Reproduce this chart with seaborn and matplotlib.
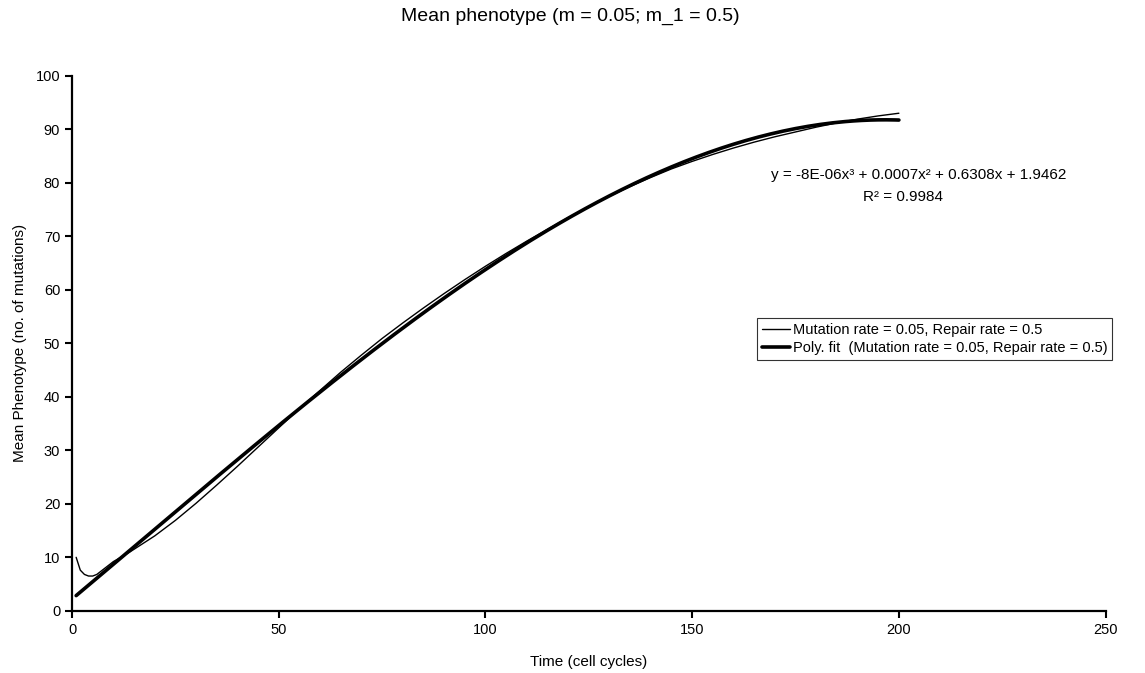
import numpy as np
import pandas as pd
import matplotlib
matplotlib.use("Agg")
import matplotlib.pyplot as plt
import seaborn as sns

# ---- data ----
time_cycles = [1, 2, 3, 4, 5, 6, 7, 8, 9, 10, 12, 14, 16, 18, 20, 25, 30, 35, 40, 45,
               50, 55, 60, 65, 70, 75, 80, 85, 90, 95, 100, 105, 110, 115, 120, 125,
               130, 135, 140, 145, 150, 155, 160, 165, 170, 175, 180, 185, 190, 195, 200]
mean_phenotype = [10.0, 7.6, 6.8, 6.5, 6.5, 6.8, 7.4, 8.0, 8.6, 9.2, 10.1, 11.0, 12.0, 13.0,
                  14.0, 16.9, 20.1, 23.5, 27.0, 30.6, 34.2, 37.8, 41.2, 44.6, 47.8, 50.9,
                  53.8, 56.6, 59.3, 61.9, 64.4, 66.8, 69.1, 71.3, 73.5, 75.5, 77.5, 79.3,
                  81.0, 82.6, 84.0, 85.3, 86.5, 87.6, 88.6, 89.5, 90.4, 91.2, 91.9, 92.5, 93.0]

series_label = "Mutation rate = 0.05, Repair rate = 0.5"
fit_label = "Poly. fit  (Mutation rate = 0.05, Repair rate = 0.5)"
title_text = "Mean phenotype (m = 0.05; m_1 = 0.5)"
eq_text = "y = -8E-06x\u00b3 + 0.0007x\u00b2 + 0.6308x + 1.9462"
r2_text = "R\u00b2 = 0.9984"
x_ticks = [0, 50, 100, 150, 200, 250]
y_ticks = [0, 10, 20, 30, 40, 50, 60, 70, 80, 90, 100]

# ---- style ----
sns.set_style("ticks")
plt.rcParams['font.family'] = ['Liberation Sans', 'DejaVu Sans']

# third-order polynomial trend line fitted to the series
# (weights account for the uneven sampling, so every cell cycle counts alike)
t_arr = np.asarray(time_cycles, dtype=float)
spacing = np.gradient(t_arr)
coef = np.polyfit(t_arr, mean_phenotype, 3, w=np.sqrt(spacing))
fit_x = np.linspace(t_arr.min(), t_arr.max(), 200)
fit_y = np.polyval(coef, fit_x)

df = pd.DataFrame({"t": time_cycles, "y": mean_phenotype})
df_fit = pd.DataFrame({"t": fit_x, "y": fit_y})

fig = plt.figure(figsize=(11.45, 6.73), dpi=100)
ax = fig.add_axes([0.0629, 0.0924, 0.9027, 0.795])

sns.lineplot(data=df, x="t", y="y", ax=ax, color="black", linewidth=1.0, label=series_label)
sns.lineplot(data=df_fit, x="t", y="y", ax=ax, color="black", linewidth=2.6, label=fit_label)

ax.set_xlim(0, 250)
ax.set_ylim(0, 100)
ax.set_xticks(x_ticks)
ax.set_yticks(y_ticks)
ax.tick_params(axis="both", labelsize=10.5, length=5, width=1.5, color="black", labelcolor="black")
for side in ["left", "bottom"]:
    ax.spines[side].set_linewidth(1.6)
    ax.spines[side].set_color("black")
sns.despine(ax=ax)

ax.set_xlabel("Time (cell cycles)", fontsize=11, labelpad=13, color="black")
ax.set_ylabel("Mean Phenotype (no. of mutations)", fontsize=11, labelpad=6, color="black")

fig.suptitle(title_text, fontsize=14, x=0.498, y=0.988, color="black")

fig.text(0.802, 0.740, eq_text, ha="center", va="center", fontsize=11, color="black")
fig.text(0.789, 0.708, r2_text, ha="center", va="center", fontsize=11, color="black")

leg = ax.legend(loc="upper left", bbox_to_anchor=(0.661, 0.528), bbox_transform=fig.transFigure,
                frameon=True, fancybox=False, shadow=False, fontsize=10.5, handlelength=1.9,
                handletextpad=0.2, borderpad=0.35, labelspacing=0.3, borderaxespad=0)
leg.get_frame().set_edgecolor("black")
leg.get_frame().set_linewidth(0.8)
for txt in leg.get_texts():
    txt.set_color("black")

fig.savefig("out.png", dpi=100, facecolor="white")
